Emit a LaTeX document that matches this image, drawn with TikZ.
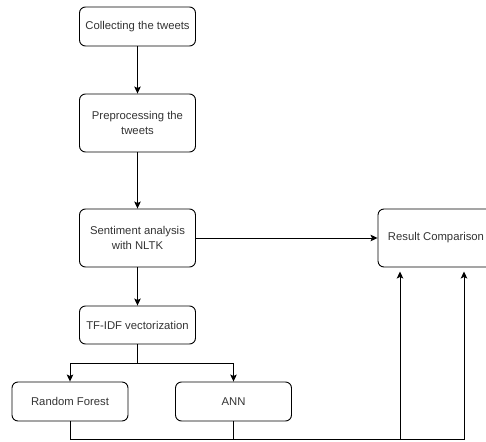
\documentclass[tikz,border=0pt]{standalone}
\usepackage{fontspec}
\setmainfont{Liberation Sans}
\usetikzlibrary{arrows.meta}

\definecolor{txtgray}{HTML}{333333}

\tikzset{
  stepbox/.style={draw, line width=0.9pt, rounded corners=6pt, minimum width=116pt,
    align=center, text=txtgray, font=\fontsize{11.3}{15}\selectfont},
  arr/.style={-{Stealth[length=7pt,width=6.5pt,inset=1.5pt]}, line width=0.9pt}
}

\begin{document}
\begin{tikzpicture}[x=1pt, y=-1pt]

%frame
\useasboundingbox (0,0) rectangle (486,441);
\clip (0,0) rectangle (486,441);

%boxes
\node[stepbox, minimum height=39pt] (collect) at (137.5,26.5) {Collecting the tweets};
\node[stepbox, minimum height=58pt] (prep) at (137.5,123) {Preprocessing the\\tweets};
\node[stepbox, minimum height=58pt] (senti) at (137.5,238) {Sentiment analysis\\with NLTK};
\node[stepbox, minimum height=38pt] (tfidf) at (137.5,325) {TF-IDF vectorization};
\node[stepbox, minimum height=39pt] (rf) at (70,401.5) {Random Forest};
\node[stepbox, minimum height=39pt] (ann) at (233.5,401.5) {ANN};
\node[stepbox, minimum height=58pt] (result) at (436,238) {Result Comparison};

%coordinates
\coordinate (bot) at (0,439);
\coordinate (in1) at (400,267.5);
\coordinate (in2) at (464,267.5);

%arrows
\draw[arr] (collect) -- (prep);
\draw[arr] (prep) -- (senti);
\draw[arr] (senti) -- (result);
\draw[arr] (senti) -- (tfidf);
\draw[line width=0.9pt] (tfidf.south) -- ++(0,19) coordinate (split);
\draw[arr] (split) -| (rf);
\draw[arr] (split) -| (ann);

%to comparison
\draw[arr, shorten >=4pt] (rf.south) -- (rf.south |- bot) -| (in2);
\draw[arr, shorten >=4pt] (ann.south) -- (ann.south |- bot) -| (in1);

\end{tikzpicture}
\end{document}
